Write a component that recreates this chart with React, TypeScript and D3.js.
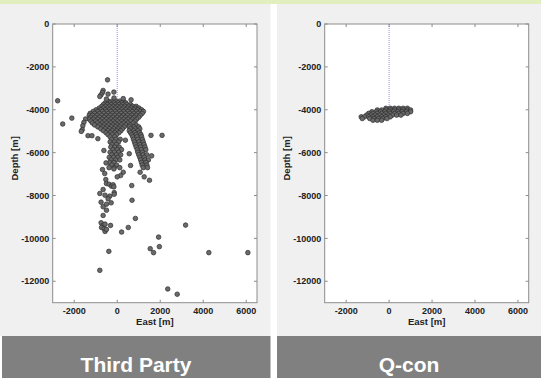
import React from 'react';
import * as d3 from 'd3';

// axis setup
const xDomain: [number, number] = [-3000, 6500];
const yDomain: [number, number] = [-13000, 0];
const xTicks = [-2000, 0, 2000, 4000, 6000];
const yTicks = [0, -2000, -4000, -6000, -8000, -10000, -12000];
const panelTitles = ['Third Party', 'Q-con'];

// well trajectory (vertical at East = 0)
const wellEast = 0;
const wellDepths = [0, -4000];

// Third party: isolated events [east, depth]
const thirdPartyScatter: [number, number][] = [
  [-2770, -3580], [-2535, -4665], [-2110, -4390], [-1470, -4430], [-1550, -4590],
  [-1600, -4745], [-1625, -4930], [-1670, -5010], [-1360, -5210], [-1175, -5210],
  [1570, -5195], [2085, -5195], [-450, -2605], [-655, -3100], [-685, -3195],
  [-750, -3300], [-810, -3380], [-155, -3175], [-425, -3270], [-500, -3500],
  [645, -3535],
  [-685, -6790], [-580, -6975], [-155, -6760], [280, -6915], [160, -7070],
  [0, -7130], [-530, -7255], [-500, -7440], [-375, -7475], [-265, -7565],
  [-190, -7500], [-155, -7595], [675, -7535], [1065, -6915], [1255, -7130],
  [1500, -7290],
  [-810, -7905], [-655, -7720], [-565, -7985], [-345, -8030], [-140, -7860],
  [-140, -7940], [-425, -8155], [-750, -8310], [-655, -8525], [-500, -8405],
  [-280, -8340], [-500, -8685], [690, -8220], [-655, -8930], [845, -9070],
  [-750, -9270], [-655, -9395], [-730, -9490], [-610, -9550], [-565, -9675],
  [-500, -9580], [-310, -9395], [-565, -9335], [205, -9705], [515, -9490],
  [3180, -9380], [1925, -9940], [1960, -10385], [1535, -10480], [1690, -10665],
  [-390, -10605], [4260, -10665], [6075, -10665], [-810, -11490], [2350, -12360],
  [2790, -12605],
  [-900, -5350], [380, -5420], [-620, -5900], [560, -6050], [-520, -6480],
  [1600, -6150], [620, -6600], [-150, -3450], [280, -3480],
];

// Third party: dense cloud, rows of [depth, east values]
const thirdPartyCloud: [number, number[]][] = [
  [-3600, [-420, -230, -60, 110, 290]],
  [-3680, [-560, -330, -150, 40, 210, 400]],
  [-3760, [-640, -460, -280, -90, 90, 260, 440, 620]],
  [-3840, [-720, -540, -360, -180, 0, 180, 350, 530, 720, 880]],
  [-3920, [-830, -640, -450, -260, -80, 110, 290, 480, 660, 840, 1010]],
  [-4000, [-980, -760, -560, -370, -170, 20, 210, 400, 590, 780, 960, 1130]],
  [-4080, [-1120, -900, -690, -490, -290, -90, 110, 300, 500, 700, 890, 1080, 1220]],
  [-4170, [-1260, -1050, -830, -620, -420, -220, -20, 180, 380, 580, 780, 970, 1160]],
  [-4260, [-1300, -1150, -940, -730, -520, -320, -120, 80, 280, 480, 680, 880, 1070]],
  [-4350, [-1240, -1030, -820, -610, -410, -210, -10, 190, 390, 590, 790, 1000]],
  [-4440, [-1300, -1120, -910, -700, -500, -300, -100, 100, 300, 500, 700, 900]],
  [-4530, [-1220, -1000, -790, -590, -390, -190, 10, 210, 410, 620, 830]],
  [-4620, [-1150, -920, -700, -500, -300, -100, 100, 300, 500, 740]],
  [-4710, [-1050, -820, -610, -410, -210, -10, 190, 390, 600, 880]],
  [-4800, [-900, -680, -480, -280, -80, 120, 320, 560, 780, 1000]],
  [-4890, [-760, -560, -360, -160, 40, 240, 620, 830, 1050]],
  [-4980, [-640, -430, -230, -30, 170, 560, 760, 960]],
  [-5070, [-520, -320, -120, 80, 620, 820, 1040]],
  [-5160, [-430, -230, -30, 680, 880, 1100]],
  [-5260, [-330, -120, 720, 920, 1130]],
  [-5380, [-260, -60, 140, 760, 960, 1170]],
  [-5500, [-330, -130, 60, 800, 1010, 1210]],
  [-5620, [-240, -40, 840, 1050, 1250]],
  [-5740, [-300, -110, 90, 880, 1090, 1290]],
  [-5860, [-200, 0, 200, 930, 1130, 1330]],
  [-5980, [-330, -130, 70, 960, 1170]],
  [-6100, [-250, -40, 160, 1000, 1210, 1380]],
  [-6220, [-370, -170, 30, 1050, 1260]],
  [-6340, [-280, -80, 120, 1090, 1300, 1450]],
  [-6460, [-350, -150, 1130, 1340]],
  [-6580, [-250, -30, 1160, 1380]],
  [-6700, [-380, -140, 120, 1210, 1410]],
];

// Q-con: compact cloud, rows of [depth, east values]
const qconCloud: [number, number[]][] = [
  [-3930, [-150, 50, 250, 450, 650, 850]],
  [-4010, [-550, -350, -150, 50, 250, 450, 650, 850, 1000]],
  [-4090, [-800, -600, -400, -200, 0, 200, 400, 600, 800, 1000]],
  [-4170, [-950, -750, -550, -350, -150, 50, 250, 450, 650, 850]],
  [-4250, [-1050, -850, -650, -450, -250, -50, 150, 350, 550]],
  [-4330, [-1300, -1150, -950, -750, -550, -350, -150, 50]],
  [-4410, [-1250, -900, -700, -500, -300, -100]],
  [-4490, [-750, -550, -350]],
];

const cloudPoints = (rows: [number, number[]][]): [number, number][] =>
  rows.flatMap(([depth, easts]) => easts.map((e) => [e, depth] as [number, number]));

const panels = [
  { left: 0, width: 270.5, titleX: 136, plotX: [52.7, 257], points: [...cloudPoints(thirdPartyCloud), ...thirdPartyScatter] },
  { left: 277, width: 264, titleX: 409, plotX: [324.7, 528.7], points: cloudPoints(qconCloud) },
];

const plotTop = 24;
const plotBottom = 302.7;
const font = '"Liberation Sans", Arial, sans-serif';

const Panel: React.FC<{ p: typeof panels[0]; title: string }> = ({ p, title }) => {
  const x = d3.scaleLinear().domain(xDomain).range(p.plotX as [number, number]);
  const y = d3.scaleLinear().domain(yDomain).range([plotBottom, plotTop]);
  const [x0, x1] = p.plotX;
  const tickLen = 3;
  const axisColor = '#8c8c8c';
  const line = d3.line<number>().x(() => x(wellEast)).y((d) => y(d));
  const barX = p.left === 0 ? 2 : p.left;

  return (
    <g>
      <rect x={p.left} y={4} width={p.width} height={332} fill="#f0f0f0" />
      <rect x={barX} y={336} width={p.left + p.width - barX} height={42} fill="#808080" />
      <text x={p.titleX} y={372} textAnchor="middle" fill="#fff"
        fontFamily={font} fontWeight="bold" fontSize={21}>{title}</text>

      <rect x={x0} y={plotTop} width={x1 - x0} height={plotBottom - plotTop} fill="#fff" />
      <path d={line(wellDepths) || ''} stroke="#8f8fff" strokeWidth={1} strokeDasharray="1,1" fill="none" />
      {p.points.map((d, i) => (
        <circle key={i} cx={x(d[0])} cy={y(d[1])} r={2.3} fill="#6a6a6a" stroke="#2e2e2e" strokeWidth={0.7} />
      ))}
      <rect x={x0} y={plotTop} width={x1 - x0} height={plotBottom - plotTop} fill="none" stroke={axisColor} strokeWidth={1} />

      {xTicks.map((t) => (
        <g key={'x' + t}>
          <line x1={x(t)} x2={x(t)} y1={plotBottom} y2={plotBottom - tickLen} stroke={axisColor} />
          <line x1={x(t)} x2={x(t)} y1={plotTop} y2={plotTop + tickLen} stroke={axisColor} />
          <text x={x(t)} y={314} textAnchor="middle" fontFamily={font} fontWeight="bold" fontSize={9} fill="#222">{t}</text>
        </g>
      ))}
      {yTicks.map((t) => (
        <g key={'y' + t}>
          <line x1={x0} x2={x0 + tickLen} y1={y(t)} y2={y(t)} stroke={axisColor} />
          <line x1={x1} x2={x1 - tickLen} y1={y(t)} y2={y(t)} stroke={axisColor} />
          <text x={x0 - 3.5} y={y(t)} dy="0.35em" textAnchor="end" fontFamily={font} fontWeight="bold" fontSize={9} fill="#222">{t}</text>
        </g>
      ))}
      <text x={(x0 + x1) / 2} y={325} textAnchor="middle" fontFamily={font} fontWeight="bold" fontSize={9.5} fill="#222">East [m]</text>
      <text transform={`translate(${x0 - 35},${(plotTop + plotBottom) / 2 - 5}) rotate(-90)`} textAnchor="middle"
        fontFamily={font} fontWeight="bold" fontSize={9.5} fill="#222">Depth [m]</text>
    </g>
  );
};

export default function App() {
  return (
    <svg width={541} height={378} style={{ position: 'absolute', left: 0, top: 0, background: '#fff' }}>
      <rect x={0} y={0} width={541} height={4} fill="#e0efbd" />
      {panels.map((p, i) => (
        <Panel key={i} p={p} title={panelTitles[i]} />
      ))}
    </svg>
  );
}
